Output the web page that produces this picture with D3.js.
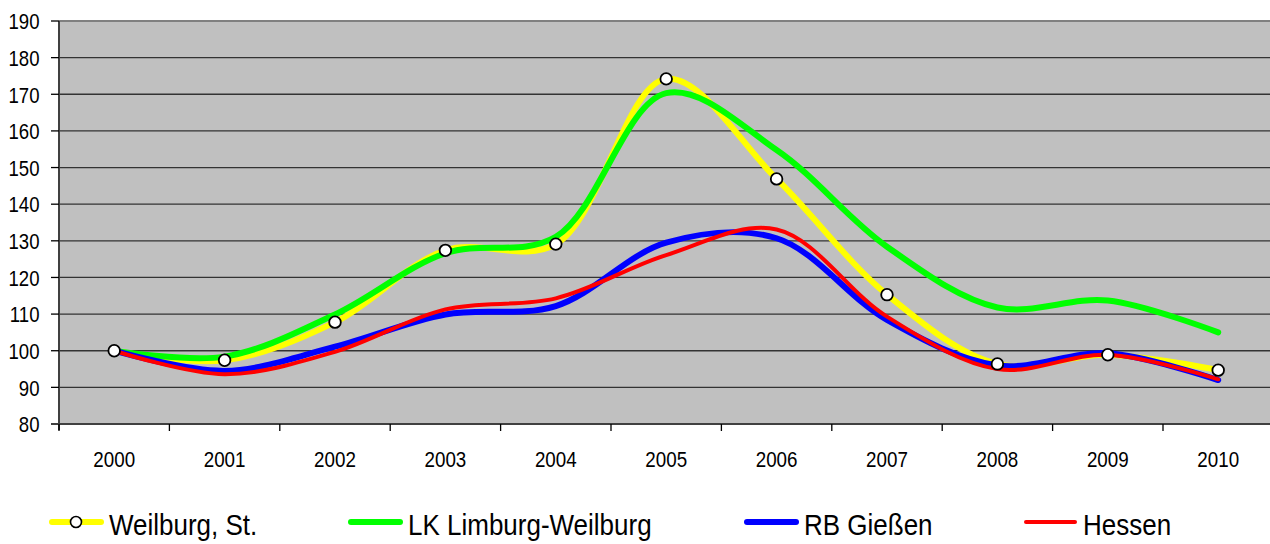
<!DOCTYPE html>
<html>
<head>
<meta charset="utf-8">
<script src="https://cdn.jsdelivr.net/npm/d3@7"></script>
<style>
  body { margin: 0; background: #fff; }
  svg { display: block; font-family: "Liberation Sans", Arial, sans-serif; }
</style>
</head>
<body>
<svg id="chart" width="1270" height="544"></svg>
<script>
// Data (index, 2000 = 100)
var years = ["2000", "2001", "2002", "2003", "2004", "2005", "2006", "2007", "2008", "2009", "2010"];
var weilburg = [100, 97.4, 107.8, 127.4, 129.1, 174.2, 146.9, 115.3, 96.4, 98.9, 94.7];
var limburg  = [100, 98.4, 109.9, 126.6, 131.1, 170.3, 154.8, 128.4, 111.8, 113.7, 105.0];
var giessen  = [100, 94.5, 101.1, 109.9, 112.2, 129.5, 130.7, 108.4, 96.0, 99.3, 92.0];
var hessen   = [100, 93.6, 99.7, 111.3, 114.3, 126.1, 133.1, 109.3, 95.0, 98.9, 92.2];
var yTicks = [80, 90, 100, 110, 120, 130, 140, 150, 160, 170, 180, 190];

var seriesNames = ["Weilburg, St.", "LK Limburg-Weilburg", "RB Gießen", "Hessen"];

var series = [
    { name: seriesNames[0], values: weilburg, color: "#ffff00", width: 6, marker: true },
    { name: seriesNames[1], values: limburg,  color: "#00ff00", width: 6 },
    { name: seriesNames[2], values: giessen,  color: "#0000ff", width: 6 },
    { name: seriesNames[3], values: hessen,   color: "#ff0000", width: 4 }
];

var svg = d3.select("#chart");
var plotLeft = 59, plotTop = 21, plotBottom = 424, bandW = 110.4;
var plotRight = plotLeft + bandW * years.length;

var x = d3.scalePoint().domain(years).range([plotLeft, plotRight]).padding(0.5);
var y = d3.scaleLinear().domain([80, 190]).range([plotBottom, plotTop]);

// Plot background
svg.append("rect")
    .attr("x", plotLeft).attr("y", plotTop)
    .attr("width", plotRight - plotLeft).attr("height", plotBottom - plotTop)
    .attr("fill", "#c0c0c0");

// Gridlines
svg.append("g")
    .selectAll("line")
    .data(yTicks.slice(1, -1))
    .join("line")
    .attr("x1", plotLeft).attr("x2", plotRight)
    .attr("y1", d => y(d)).attr("y2", d => y(d))
    .attr("stroke", "#333").attr("stroke-width", 1.3);

// Top border
svg.append("line")
    .attr("x1", plotLeft).attr("x2", plotRight)
    .attr("y1", plotTop).attr("y2", plotTop)
    .attr("stroke", "#808080").attr("stroke-width", 2);

// Y axis
var yAxis = svg.append("g");
yAxis.append("line")
    .attr("x1", plotLeft).attr("x2", plotLeft)
    .attr("y1", plotTop).attr("y2", plotBottom + 6)
    .attr("stroke", "#404040").attr("stroke-width", 2);
yAxis.selectAll("line.tick")
    .data(yTicks)
    .join("line")
    .attr("class", "tick")
    .attr("x1", plotLeft - 8).attr("x2", plotLeft)
    .attr("y1", d => y(d)).attr("y2", d => y(d))
    .attr("stroke", "#000").attr("stroke-width", 1.3);
yAxis.selectAll("text")
    .data(yTicks)
    .join("text")
    .attr("transform", d => `translate(39.5, ${y(d) + 8.3}) scale(1, 1.2)`)
    .attr("text-anchor", "end")
    .attr("font-size", "18.6px")
    .attr("fill", "#000")
    .text(d => d);

// X axis
var xAxis = svg.append("g");
xAxis.append("line")
    .attr("x1", plotLeft - 8).attr("x2", plotRight)
    .attr("y1", plotBottom).attr("y2", plotBottom)
    .attr("stroke", "#404040").attr("stroke-width", 2);
xAxis.selectAll("line.tick")
    .data(d3.range(years.length + 1))
    .join("line")
    .attr("class", "tick")
    .attr("x1", i => plotLeft + i * bandW).attr("x2", i => plotLeft + i * bandW)
    .attr("y1", plotBottom).attr("y2", plotBottom + 7)
    .attr("stroke", "#000").attr("stroke-width", 1.3);
xAxis.selectAll("text")
    .data(years)
    .join("text")
    .attr("transform", d => `translate(${x(d)}, 466.5) scale(1, 1.22)`)
    .attr("text-anchor", "middle")
    .attr("font-size", "18.8px")
    .attr("fill", "#000")
    .text(d => d);

// Smoothed lines (Excel-like)
var line = d3.line()
    .x((d, i) => x(years[i]))
    .y(d => y(d))
    .curve(d3.curveCatmullRom.alpha(0.5));

svg.append("g")
    .selectAll("path")
    .data(series)
    .join("path")
    .attr("d", d => line(d.values))
    .attr("fill", "none")
    .attr("stroke", d => d.color)
    .attr("stroke-width", d => d.width)
    .attr("stroke-linecap", "round")
    .attr("stroke-linejoin", "round");

// Markers for Weilburg
svg.append("g")
    .selectAll("circle")
    .data(weilburg)
    .join("circle")
    .attr("cx", (d, i) => x(years[i]))
    .attr("cy", d => y(d))
    .attr("r", 5.8)
    .attr("fill", "#fff")
    .attr("stroke", "#000")
    .attr("stroke-width", 1.8);

// Legend
var legendX = [50, 349, 745, 1024];
var legend = svg.append("g")
    .selectAll("g")
    .data(series)
    .join("g")
    .attr("transform", (d, i) => `translate(${legendX[i]}, 522)`);
legend.append("line")
    .attr("x1", 2).attr("x2", 51)
    .attr("stroke", d => d.color)
    .attr("stroke-width", d => d.width)
    .attr("stroke-linecap", "round");
legend.filter(d => d.marker)
    .append("circle")
    .attr("cx", 26).attr("r", 5.5)
    .attr("fill", "#fff").attr("stroke", "#000").attr("stroke-width", 1.6);
legend.append("text")
    .attr("transform", "translate(59, 13) scale(1, 1.17)")
    .attr("font-size", "26px")
    .attr("fill", "#000")
    .text(d => d.name);
</script>
</body>
</html>
